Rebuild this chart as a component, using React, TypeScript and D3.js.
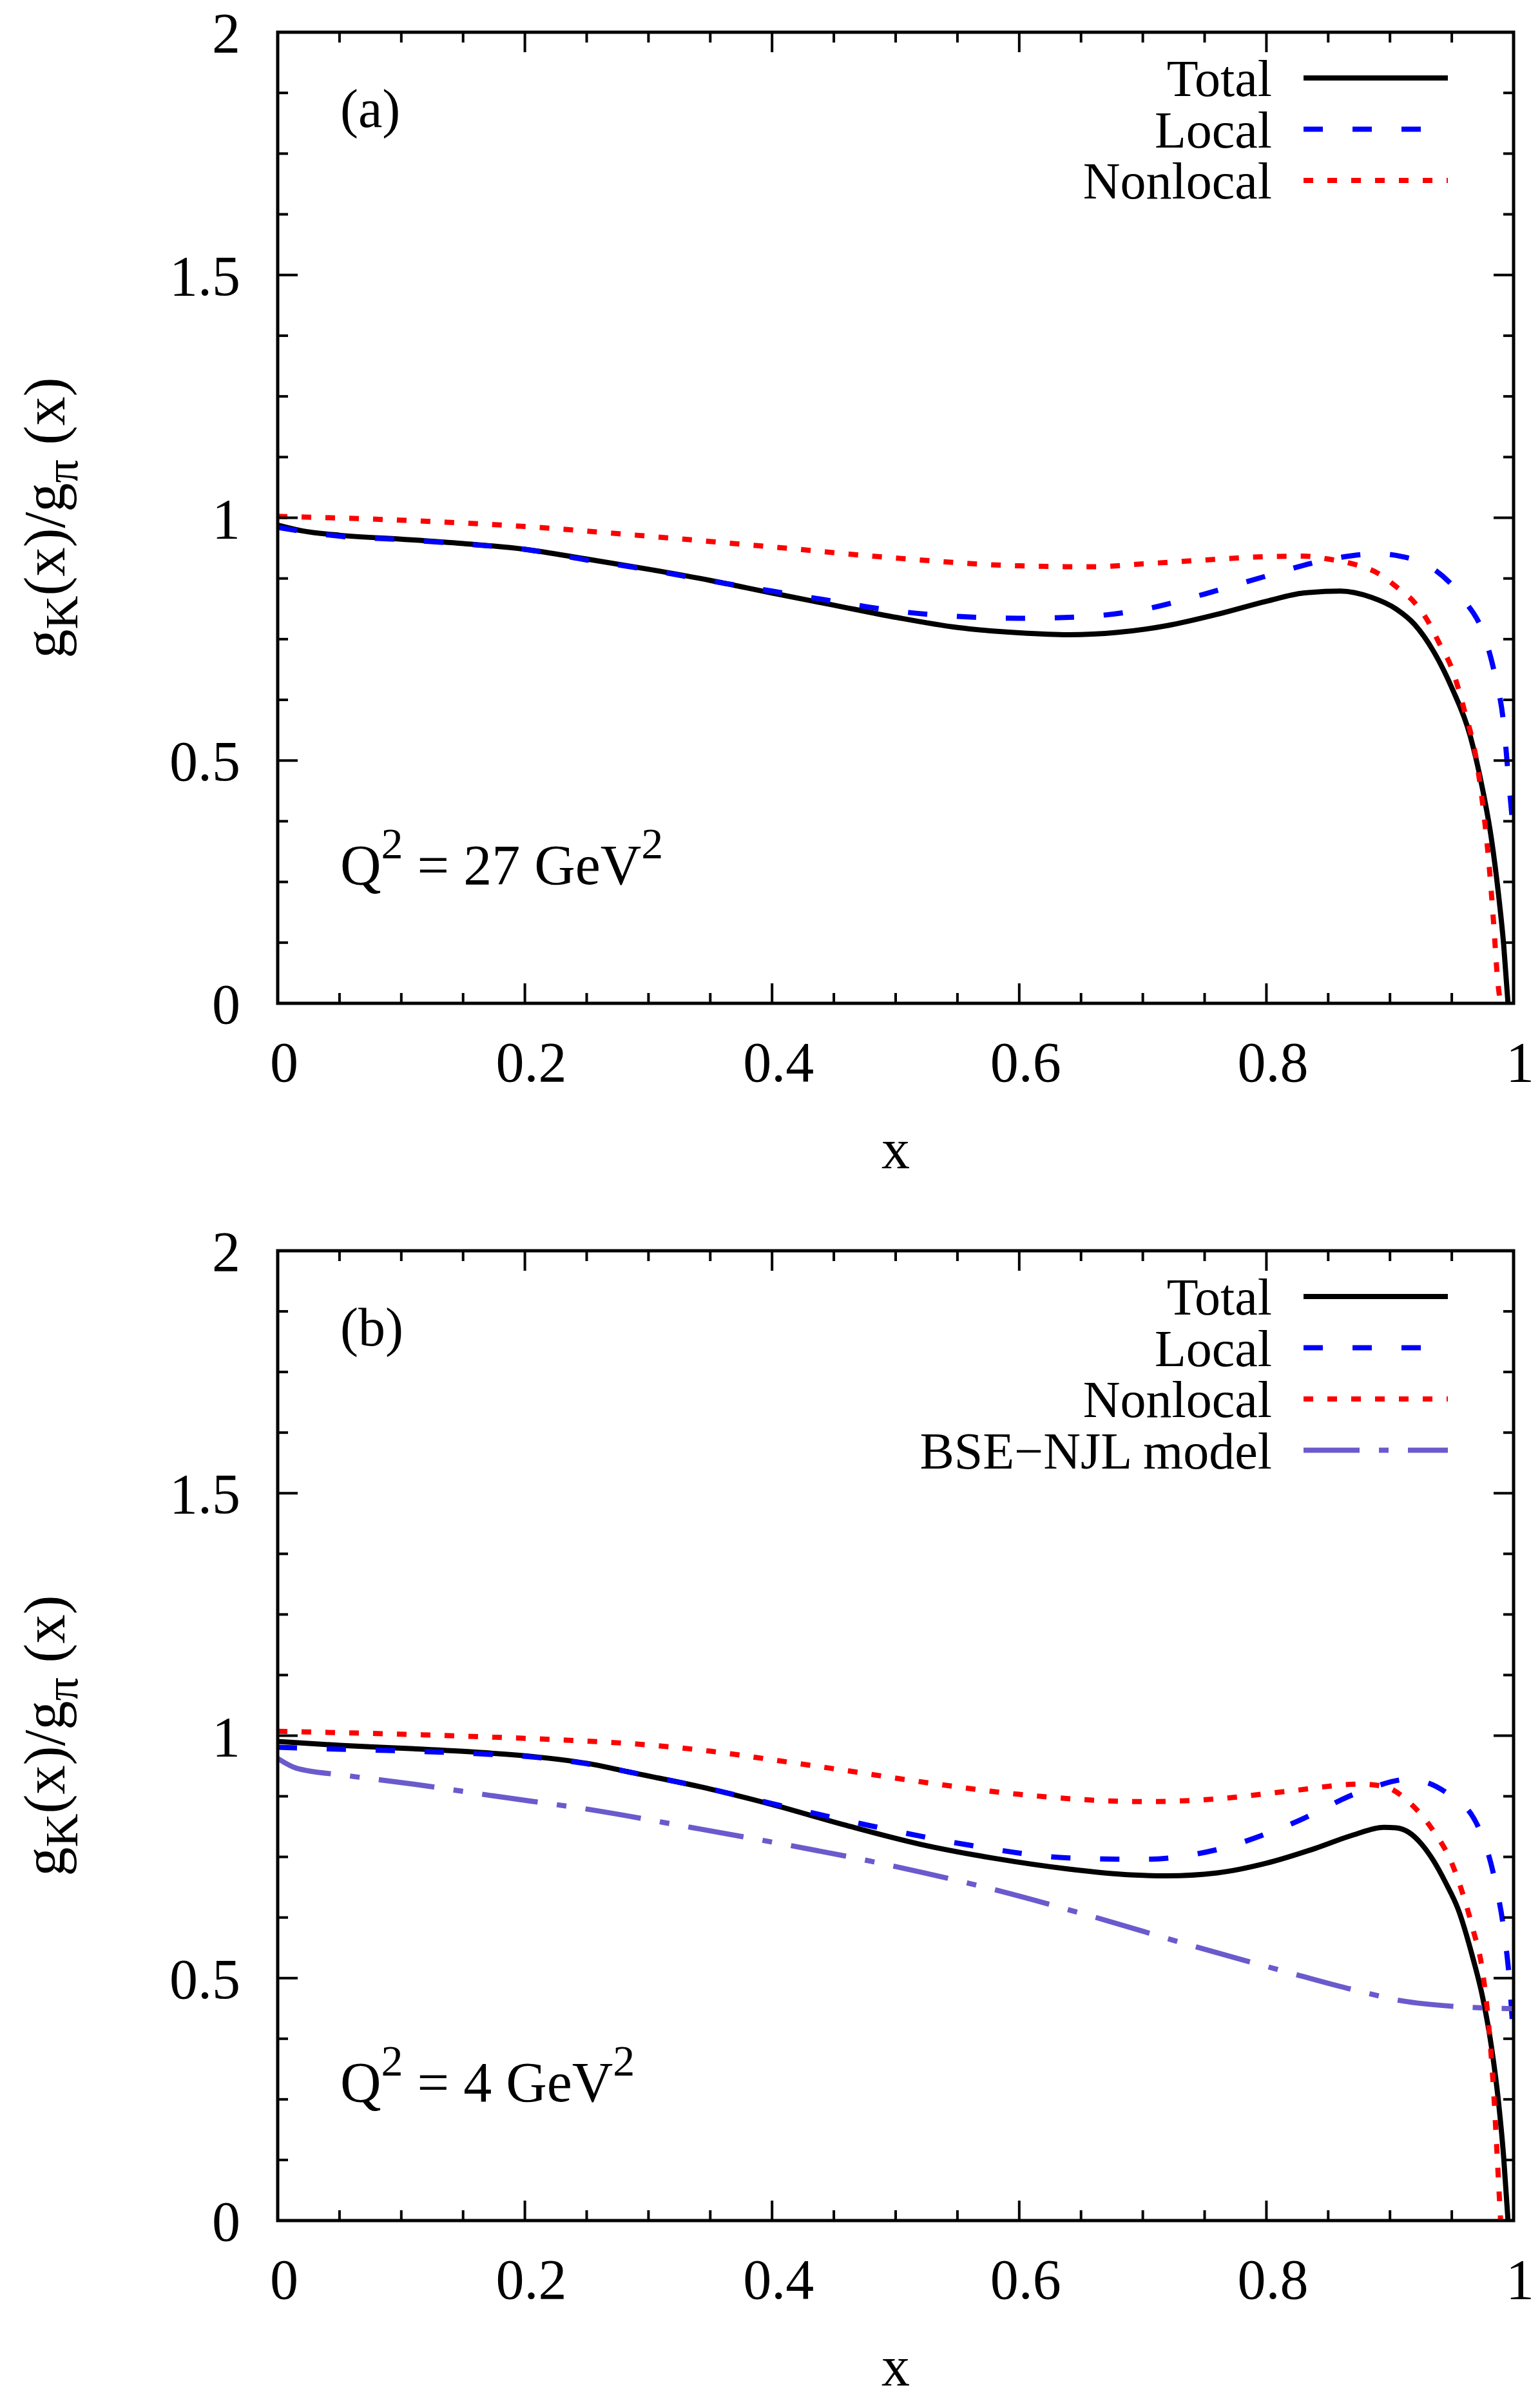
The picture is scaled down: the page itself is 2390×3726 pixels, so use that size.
import { useEffect, useRef } from 'react'
import * as d3 from 'd3'

type Pt = [number, number]

// panel (a): Q^2 = 27 GeV^2
const totalA: Pt[] = [
  [0, 0.985], [0.02, 0.973], [0.05, 0.964], [0.1, 0.956], [0.15, 0.947], [0.2, 0.935],
  [0.25, 0.915], [0.3, 0.894], [0.35, 0.871], [0.4, 0.845], [0.45, 0.82], [0.5, 0.795],
  [0.55, 0.774], [0.6, 0.763], [0.64, 0.759], [0.68, 0.764], [0.72, 0.778], [0.76, 0.801],
  [0.8, 0.828], [0.83, 0.845], [0.86, 0.849], [0.885, 0.836], [0.905, 0.812], [0.92, 0.78],
  [0.935, 0.726], [0.95, 0.65], [0.965, 0.55], [0.975, 0.44], [0.982, 0.34], [0.988, 0.22],
  [0.992, 0.12], [0.9955, 0],
]
const localA: Pt[] = [
  [0, 0.98], [0.05, 0.962], [0.1, 0.955], [0.15, 0.946], [0.2, 0.935], [0.25, 0.913],
  [0.3, 0.893], [0.35, 0.87], [0.4, 0.849], [0.45, 0.828], [0.5, 0.808], [0.55, 0.797],
  [0.6, 0.793], [0.65, 0.796], [0.7, 0.811], [0.75, 0.843], [0.8, 0.88], [0.85, 0.914],
  [0.89, 0.926], [0.91, 0.92], [0.93, 0.903], [0.96, 0.83], [0.975, 0.765], [0.985, 0.675],
  [0.992, 0.575], [0.996, 0.46], [1.0, 0.35],
]
const nonlocalA: Pt[] = [
  [0, 1.003], [0.1, 0.995], [0.2, 0.982], [0.3, 0.962], [0.4, 0.94], [0.5, 0.917],
  [0.6, 0.901], [0.66, 0.899], [0.7, 0.905], [0.75, 0.913], [0.8, 0.92], [0.83, 0.921],
  [0.85, 0.915], [0.87, 0.905], [0.89, 0.886], [0.905, 0.858], [0.92, 0.825], [0.93, 0.79],
  [0.94, 0.741], [0.95, 0.69], [0.96, 0.605], [0.97, 0.5], [0.975, 0.41], [0.98, 0.29],
  [0.984, 0.16], [0.987, 0.05], [0.9895, 0],
]

// panel (b): Q^2 = 4 GeV^2
const totalB: Pt[] = [
  [0, 0.988], [0.05, 0.98], [0.11, 0.973], [0.16, 0.966], [0.21, 0.956], [0.25, 0.943],
  [0.29, 0.922], [0.35, 0.89], [0.4, 0.858], [0.46, 0.815], [0.52, 0.776], [0.58, 0.747],
  [0.64, 0.725], [0.69, 0.713], [0.72, 0.711], [0.76, 0.717], [0.8, 0.737], [0.84, 0.768],
  [0.87, 0.795], [0.895, 0.811], [0.905, 0.81], [0.915, 0.801], [0.925, 0.778],
  [0.935, 0.743], [0.945, 0.697], [0.955, 0.643], [0.967, 0.542], [0.975, 0.46],
  [0.982, 0.36], [0.988, 0.24], [0.992, 0.13], [0.9955, 0],
]
const localB: Pt[] = [
  [0, 0.976], [0.05, 0.972], [0.11, 0.968], [0.16, 0.963], [0.21, 0.955], [0.25, 0.942],
  [0.29, 0.922], [0.35, 0.89], [0.4, 0.86], [0.48, 0.814], [0.56, 0.774], [0.64, 0.748],
  [0.7, 0.745], [0.76, 0.765], [0.82, 0.818], [0.88, 0.888], [0.915, 0.91], [0.947, 0.88],
  [0.971, 0.814], [0.985, 0.7], [0.9925, 0.592], [0.9965, 0.5], [1.0, 0.37],
]
const nonlocalB: Pt[] = [
  [0, 1.009], [0.1, 1.003], [0.174, 0.997], [0.24, 0.99], [0.294, 0.982], [0.35, 0.968],
  [0.401, 0.95], [0.46, 0.928], [0.52, 0.905], [0.6, 0.879], [0.7, 0.864], [0.757, 0.869],
  [0.816, 0.885], [0.876, 0.9], [0.8955, 0.895], [0.915, 0.864], [0.935, 0.804],
  [0.949, 0.743], [0.959, 0.673], [0.967, 0.602], [0.975, 0.512], [0.98, 0.4],
  [0.984, 0.26], [0.987, 0.12], [0.9895, 0],
]
const njlB: Pt[] = [
  [0, 0.953], [0.015, 0.933], [0.055, 0.918], [0.11, 0.9], [0.174, 0.876], [0.254, 0.847],
  [0.334, 0.811], [0.401, 0.78], [0.48, 0.741], [0.579, 0.683], [0.658, 0.628],
  [0.737, 0.569], [0.816, 0.513], [0.872, 0.475], [0.91, 0.453], [0.95, 0.442], [1.0, 0.437],
]

const xTicks = [0, 0.2, 0.4, 0.6, 0.8, 1]
const xTickLabels = ['0', '0.2', '0.4', '0.6', '0.8', '1']
const yTicks = [0, 0.5, 1, 1.5, 2]
const yTickLabels = ['0', '0.5', '1', '1.5', '2']

const seriesNames = ['Total', 'Local', 'Nonlocal', 'BSE\u2212NJL model']
const panelTags = ['(a)', '(b)']
const panelQ2 = ['27', '4']

const styles: Record<string, { color: string; dash: string | null }> = {
  Total: { color: '#000000', dash: null },
  Local: { color: '#0000ff', dash: '30 46' },
  Nonlocal: { color: '#ff0000', dash: '15 22' },
  'BSE\u2212NJL model': { color: '#6a5acd', dash: '87 30 15 30' },
}

const W = 2390
const H = 3726
const FONT = "'Liberation Serif', 'DejaVu Serif', serif"

export default function App() {
  const svgRef = useRef<SVGSVGElement>(null)

  useEffect(() => {
    if (!svgRef.current) return
    const svg = d3.select(svgRef.current)
    svg.selectAll('*').remove()

    const panels = [
      { top: 50, bottom: 1557, data: [totalA, localA, nonlocalA] },
      { top: 1941, bottom: 3446, data: [totalB, localB, nonlocalB, njlB] },
    ]
    const left = 431
    const right = 2349

    panels.forEach((p, pi) => {
      const x = d3.scaleLinear().domain([0, 1]).range([left, right])
      const y = d3.scaleLinear().domain([0, 2]).range([p.bottom, p.top])
      const g = svg.append('g')

      const clipId = `clip${pi}`
      g.append('clipPath').attr('id', clipId)
        .append('rect')
        .attr('x', left).attr('y', p.top)
        .attr('width', right - left).attr('height', p.bottom - p.top)

      // Curves
      const line = d3.line<Pt>()
        .x(d => x(d[0]))
        .y(d => y(d[1]))
        .curve(d3.curveMonotoneX)
      p.data.forEach((d, i) => {
        const st = styles[seriesNames[i]]
        g.append('path')
          .attr('d', line(d))
          .attr('clip-path', `url(#${clipId})`)
          .attr('fill', 'none')
          .attr('stroke', st.color)
          .attr('stroke-width', 8)
          .attr('stroke-dasharray', st.dash)
      })

      // Ticks on all four sides
      const xMinor = d3.range(21).map(i => i * 0.05)
      xMinor.forEach((v, i) => {
        const len = i % 4 === 0 ? 31 : 16
        const px = x(v)
        g.append('line').attr('x1', px).attr('x2', px)
          .attr('y1', p.bottom).attr('y2', p.bottom - len)
          .attr('stroke', 'black').attr('stroke-width', 4)
        g.append('line').attr('x1', px).attr('x2', px)
          .attr('y1', p.top).attr('y2', p.top + len)
          .attr('stroke', 'black').attr('stroke-width', 4)
      })
      const yMinor = d3.range(17).map(i => i * 0.125)
      yMinor.forEach((v, i) => {
        const len = i % 4 === 0 ? 31 : 16
        const py = y(v)
        g.append('line').attr('x1', left).attr('x2', left + len)
          .attr('y1', py).attr('y2', py)
          .attr('stroke', 'black').attr('stroke-width', 4)
        g.append('line').attr('x1', right).attr('x2', right - len)
          .attr('y1', py).attr('y2', py)
          .attr('stroke', 'black').attr('stroke-width', 4)
      })

      // Frame
      g.append('rect')
        .attr('x', left).attr('y', p.top)
        .attr('width', right - left).attr('height', p.bottom - p.top)
        .attr('fill', 'none').attr('stroke', 'black').attr('stroke-width', 5)

      // Tick labels
      xTicks.forEach((v, i) => {
        g.append('text')
          .attr('x', x(v) + 10).attr('y', p.bottom + 121)
          .attr('text-anchor', 'middle')
          .attr('font-family', FONT).attr('font-size', 88)
          .text(xTickLabels[i])
      })
      yTicks.forEach((v, i) => {
        g.append('text')
          .attr('x', 373).attr('y', y(v) + 31)
          .attr('text-anchor', 'end')
          .attr('font-family', FONT).attr('font-size', 88)
          .text(yTickLabels[i])
      })

      // Axis titles
      g.append('text')
        .attr('x', (left + right) / 2).attr('y', p.bottom + 256)
        .attr('text-anchor', 'middle')
        .attr('font-family', FONT).attr('font-size', 88)
        .text('x')

      const yl = g.append('text')
        .attr('transform', `translate(100,${(p.top + p.bottom) / 2}) rotate(-90)`)
        .attr('text-anchor', 'middle')
        .attr('font-family', FONT).attr('font-size', 90)
      yl.append('tspan').text('g')
      yl.append('tspan').attr('font-size', 72).attr('dy', 20).text('K')
      yl.append('tspan').attr('dy', -20).text('(x)/g')
      yl.append('tspan').attr('font-size', 72).attr('dy', 20).text('\u03c0')
      yl.append('tspan').attr('dy', -20).text('\u00a0(x)')

      // Panel tag and Q^2 label
      g.append('text')
        .attr('x', 528).attr('y', p.top + 147)
        .attr('font-family', FONT).attr('font-size', 84)
        .text(panelTags[pi])

      const q = g.append('text')
        .attr('x', 528).attr('y', p.bottom - 185)
        .attr('font-family', FONT).attr('font-size', 88)
      q.append('tspan').text('Q')
      q.append('tspan').attr('font-size', 68).attr('dy', -40).text('2')
      q.append('tspan').attr('dy', 40).text(` = ${panelQ2[pi]} GeV`)
      q.append('tspan').attr('font-size', 68).attr('dy', -40).text('2')

      // Legend
      p.data.forEach((_, i) => {
        const name = seriesNames[i]
        const st = styles[name]
        const ly = p.top + 71 + i * 79.5
        g.append('text')
          .attr('x', 1974).attr('y', ly + 28)
          .attr('text-anchor', 'end')
          .attr('font-family', FONT).attr('font-size', 80)
          .text(name)
        g.append('line')
          .attr('x1', 2023).attr('x2', 2247)
          .attr('y1', ly).attr('y2', ly)
          .attr('stroke', st.color)
          .attr('stroke-width', 8)
          .attr('stroke-dasharray', st.dash)
      })
    })
  }, [])

  return (
    <svg
      ref={svgRef}
      width={W}
      height={H}
      style={{ position: 'absolute', left: 0, top: 0, background: '#ffffff' }}
    />
  )
}
